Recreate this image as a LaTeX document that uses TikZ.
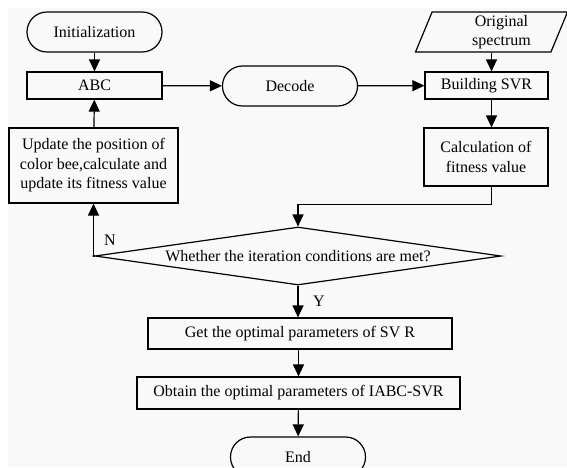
\documentclass[tikz,border=0pt]{standalone}
\usepackage{fontspec}
\setmainfont{Liberation Serif}
\usetikzlibrary{arrows.meta,shapes.geometric}
\definecolor{paper}{RGB}{249,249,249}

\begin{document}
\begin{tikzpicture}[x=1pt,y=-1pt,font=\fontsize{16}{19.5}\selectfont,>={Triangle[length=12pt,width=11pt]},line width=1.2pt]
    \tikzset{
      box/.style={draw, rectangle, inner sep=0pt, align=center},
      term/.style={draw, rounded corners=19.9pt, minimum width=135pt, minimum height=40pt, inner sep=0pt},
      arrow/.style={->}
    }
    \clip (0,0) rectangle (567,467);
    \fill[paper] (8,8) rectangle (567,467);
    \foreach \x/\y/\name/\txt in {94.5/32/init/Initialization, 290/86/dcd/Decode, 298/457/stop/End} {
      \node[term] (\name) at (\x,\y) {\txt};
    }
    \node[box, minimum width=135pt, minimum height=27pt] (abc) at (94.5,85.5) {ABC};
    \node[box, minimum width=169pt, minimum height=75pt] (upd) at (93.5,165.5)
      {Update the position of\\color bee,calculate and\\update its fitness value};
    \node[draw, trapezium, trapezium left angle=64, trapezium right angle=116,
      trapezium stretches body, minimum width=152pt, minimum height=40pt,
      inner sep=0pt, align=center] (spec) at (491.5,32)
      {\hspace*{20pt}Original\\\hspace*{20pt}spectrum};
    \node[box, minimum width=123pt, minimum height=27pt] (svr) at (486.5,85.5) {Building SVR};
    \node[box, minimum width=124pt, minimum height=58pt] (calc) at (486,157) {Calculation of\\fitness value};
    \node[draw, diamond, aspect=6.95, minimum width=406pt, minimum height=58pt, inner sep=0pt] (cond) at (298,256)
      {Whether the iteration conditions are met?};
    \node[box, minimum width=304pt, minimum height=31pt] (get) at (300,333.5) {Get the optimal parameters of SV R};
    \node[box, minimum width=323pt, minimum height=32pt] (obt) at (298.5,393) {Obtain the optimal parameters of IABC-SVR};
    \node (nlab) at (110,240) {N};
    \node (ylab) at (319,301) {Y};

    \draw[arrow] (init) -- (abc);
    \draw[arrow] (abc) -- (dcd);
    \draw[arrow] (dcd) -- (svr);
    \draw[arrow] (spec.south) -- (spec.south |- svr.north);
    \draw[arrow] (svr.south -| spec.south) -- (spec.south |- calc.north);
    \draw[arrow] (calc.south -| spec.south) -- ++(0,18) -| (cond.north);
    \draw[arrow] (upd) -- (abc);
    \draw[arrow] (cond.west) -| (upd.south);
    \draw[arrow] (cond.south) -- (cond.south |- get.north);
    \draw[arrow] (get.south -| obt) -- (obt);
    \draw[arrow] (obt) -- (stop);
  \end{tikzpicture}
\end{document}
